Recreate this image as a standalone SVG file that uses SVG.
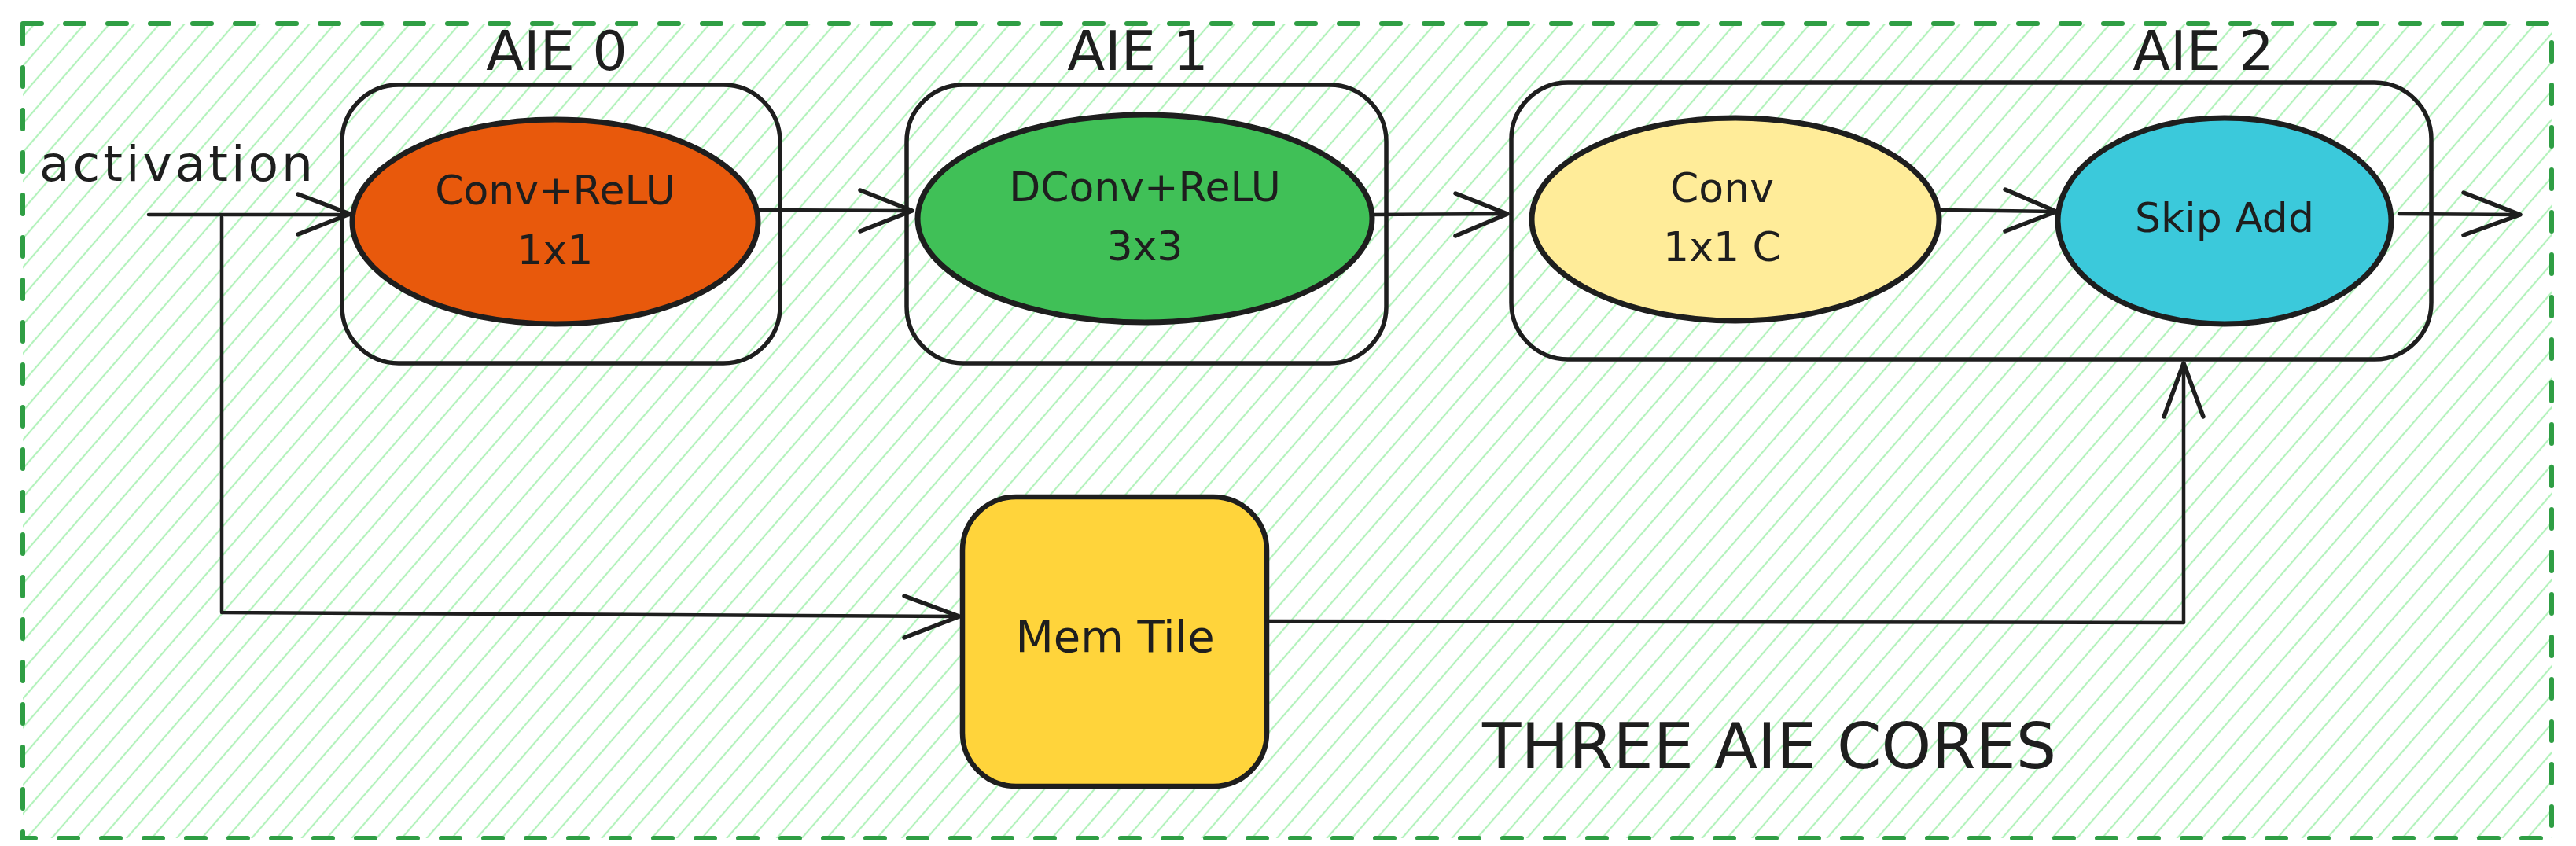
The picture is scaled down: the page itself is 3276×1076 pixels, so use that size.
<svg xmlns="http://www.w3.org/2000/svg" width="3276" height="1076" viewBox="0 0 3276 1076">
<defs>
<pattern id="hatch" patternUnits="userSpaceOnUse" width="24" height="20" patternTransform="rotate(41)">
<line x1="5" y1="0" x2="5" y2="20" stroke="#b2f2bb" stroke-width="2.2"/>
</pattern>
<style>
.box{fill:none;stroke:#1e1e1e;stroke-width:5.5}
.ell{stroke:#1e1e1e;stroke-width:7}
.lbl{font-family:"DejaVu Sans","Liberation Sans",sans-serif;fill:#1e1e1e;text-anchor:middle}
.t52{font-size:52px}
.aie{font-size:70px}
.conn path{fill:none;stroke:#1e1e1e;stroke-width:4.5;stroke-linecap:round;stroke-linejoin:round}
.conn .head{stroke-width:5.5}
</style>
</defs>
<rect width="3276" height="1076" fill="#ffffff"/>
<g id="frame">
<rect x="29" y="30" width="3216" height="1036" fill="url(#hatch)"/>
<rect x="29" y="30" width="3216" height="1036" fill="none" stroke="#2f9e44" stroke-width="6" stroke-dasharray="24 30" stroke-linecap="round"/>
<text class="lbl" x="2250" y="977" font-size="81">THREE AIE CORES</text>
</g>
<g id="aie0">
<rect class="box" x="435" y="108" width="557" height="354" rx="72"/>
<text class="lbl aie" x="708" y="89">AIE 0</text>
</g>
<g id="aie1">
<rect class="box" x="1153" y="108" width="610" height="354" rx="72"/>
<text class="lbl aie" x="1447" y="89">AIE 1</text>
</g>
<g id="aie2">
<rect class="box" x="1922" y="105" width="1170" height="352" rx="72"/>
<text class="lbl aie" x="2802" y="89">AIE 2</text>
</g>
<g id="conv-relu">
<ellipse class="ell" cx="706" cy="282" rx="258" ry="130" fill="#e8590c"/>
<text class="lbl t52" x="706" y="260">Conv+ReLU</text>
<text class="lbl t52" x="706" y="336">1x1</text>
</g>
<g id="dconv-relu">
<ellipse class="ell" cx="1456" cy="278" rx="289" ry="132" fill="#40c057"/>
<text class="lbl t52" x="1456" y="256">DConv+ReLU</text>
<text class="lbl t52" x="1456" y="331">3x3</text>
</g>
<g id="conv-c">
<ellipse class="ell" cx="2207" cy="279" rx="259" ry="129" fill="#ffec99"/>
<text class="lbl t52" x="2190" y="257">Conv</text>
<text class="lbl t52" x="2190" y="332">1x1 C</text>
</g>
<g id="skip-add">
<ellipse class="ell" cx="2829" cy="281" rx="212" ry="131" fill="#3bc9db"/>
<text class="lbl t52" x="2829" y="295">Skip Add</text>
</g>
<g id="mem-tile">
<rect x="1224" y="632" width="387" height="368" rx="68" fill="#ffd43b" stroke="#1e1e1e" stroke-width="6.5"/>
<text class="lbl" x="1418" y="829" font-size="56">Mem Tile</text>
</g>
<g id="activation">
<text class="lbl" x="226" y="230" font-size="63" letter-spacing="4">activation</text>
</g>
<g id="connectors" class="conn">
<path d="M189 273 H445"/>
<path class="head" d="M379 247 L445 272 L379 298"/>
<path d="M282 276 V779 L1220 784"/>
<path class="head" d="M1150 758 L1220 784 L1150 811"/>
<path d="M966 267 L1160 268"/>
<path class="head" d="M1094 242 L1160 268 L1094 294"/>
<path d="M1744 273 L1917 272"/>
<path class="head" d="M1851 246 L1917 272 L1851 300"/>
<path d="M2467 267 L2615 269"/>
<path class="head" d="M2550 241 L2615 269 L2550 294"/>
<path d="M3051 272 L3205 273"/>
<path class="head" d="M3133 245 L3205 273 L3133 299"/>
<path d="M1611 790 L2777 792 V462"/>
<path class="head" d="M2752 530 L2777 462 L2802 530"/>
</g>
</svg>
